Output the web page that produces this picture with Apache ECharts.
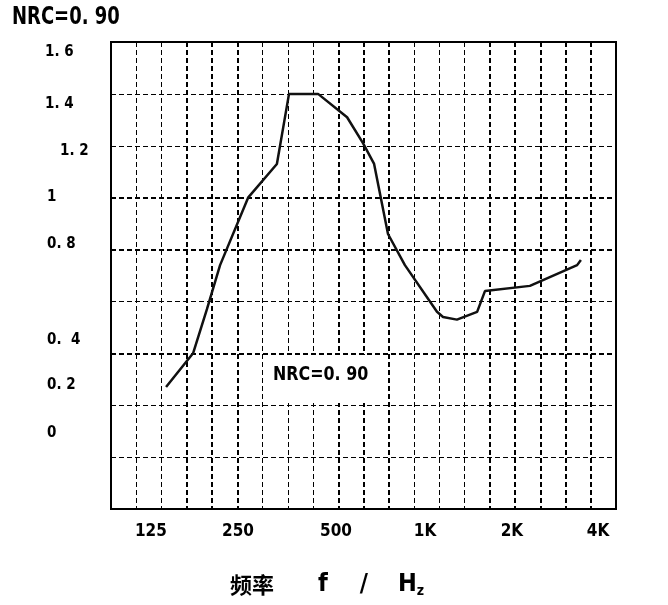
<!DOCTYPE html>
<html>
<head>
<meta charset="utf-8">
<script src="https://cdn.jsdelivr.net/npm/echarts@6/dist/echarts.min.js"></script>
<style>
html, body { margin: 0; padding: 0; background: #fff; }
#chart { width: 668px; height: 605px; }
</style>
</head>
<body>
<div id="chart"></div>
<script>
// 曲线：横坐标以网格列为单位（0 ~ 20），纵坐标为吸声系数
const curveX = [2.18, 3.25, 3.80, 4.32, 5.43, 6.57, 7.05, 8.20, 9.35, 9.98, 10.42, 10.97, 11.64, 12.91, 13.15, 13.70, 14.50, 14.81, 16.59, 18.46, 18.61];
const curveY = [0.27, 0.40, 0.57, 0.74, 1.00, 1.13, 1.40, 1.40, 1.31, 1.21, 1.13, 0.86, 0.74, 0.56, 0.54, 0.53, 0.56, 0.64, 0.66, 0.74, 0.76];

// 横轴刻度（频率）
const xTickPos = [1.58, 5.03, 8.91, 12.44, 15.88, 19.29];
const xTickLabels = ['125', '250', '500', '1K', '2K', '4K'];

// 纵轴刻度
const yTickValues = [1.6, 1.4, 1.2, 1.0, 0.8, 0.4, 0.2, 0];
const yTickLabels = ['1. 6', '1. 4', '1. 2', '1', '0. 8', '0.  4', '0. 2', '0'];

const titleText = 'NRC=0. 90';
const xName = ['频率', 'f', '/', 'H', 'z'];

const narrow = "'Liberation Sans Narrow', 'DejaVu Sans Condensed', sans-serif";

function findIndex(list, v) {
    for (let i = 0; i < list.length; i++) {
        if (Math.abs(list[i] - v) < 1e-6) return i;
    }
    return -1;
}

const myChart = echarts.init(document.getElementById('chart'), null, { renderer: 'canvas' });

const dashThin = { color: '#000', width: 1, type: [5, 3] };
const dashThick = { color: '#000', width: 2, type: [5, 3] };

const option = {
    backgroundColor: '#fff',
    animation: false,
    grid: {
        left: 111, top: 42, width: 505, height: 467,
        show: true, borderColor: '#000', borderWidth: 2,
        containLabel: false, outerBoundsMode: 'none'
    },
    xAxis: [
        {
            type: 'value', min: 0, max: 20, interval: 1,
            axisLine: { show: false },
            axisTick: { show: false, customValues: [1, 2, 6, 7, 8, 12, 13, 14] },
            splitLine: { show: true, lineStyle: dashThin },
            axisLabel: {
                customValues: xTickPos,
                margin: 14,
                color: '#000',
                fontFamily: narrow,
                fontWeight: 'bold',
                fontSize: 17,
                formatter: function (v) {
                    const i = findIndex(xTickPos, v);
                    return i >= 0 ? xTickLabels[i] : '';
                }
            }
        },
        {
            type: 'value', min: 0, max: 20, interval: 1, position: 'bottom',
            axisLine: { show: false },
            axisTick: { show: false, customValues: [3, 4, 5, 9, 10, 11, 15, 16, 17, 18, 19] },
            splitLine: { show: true, lineStyle: dashThick },
            axisLabel: { show: false }
        }
    ],
    yAxis: [
        {
            type: 'value', min: -0.2, max: 1.6, interval: 0.2,
            axisLine: { show: false },
            axisTick: { show: false, customValues: [1.4, 1.2, 0.6, 0.2, 0] },
            splitLine: { show: true, lineStyle: dashThin },
            axisLabel: {
                customValues: yTickValues,
                showMaxLabel: true,
                showMinLabel: true,
                align: 'left',
                margin: 66,
                color: '#000',
                fontFamily: narrow,
                fontWeight: 'bold',
                fontSize: 15,
                formatter: function (v) {
                    const i = findIndex(yTickValues, v);
                    return i >= 0 ? '{t' + i + '|' + yTickLabels[i] + '}' : '';
                },
                rich: {
                    t0: { padding: [20, 0, 0, 0] },
                    t1: { padding: [20, 0, 0, 0] },
                    t2: { padding: [10, 0, 0, 15] },
                    t3: { padding: [0, 0, 2, 2] },
                    t4: { padding: [0, 0, 10, 2] },
                    t5: { padding: [0, 0, 26, 2] },
                    t6: { padding: [0, 0, 40, 2] },
                    t7: { padding: [0, 0, 48, 2] }
                }
            }
        },
        {
            type: 'value', min: -0.2, max: 1.6, interval: 0.2, position: 'left',
            axisLine: { show: false },
            axisTick: { show: false, customValues: [1.0, 0.8, 0.4] },
            splitLine: { show: true, lineStyle: dashThick },
            axisLabel: { show: false }
        }
    ],
    graphic: [
        {
            type: 'text', left: 12, top: 5, z: 100, scaleX: 0.8,
            style: {
                text: titleText, fill: '#000',
                font: 'bold 25px ' + narrow
            }
        },
        {
            type: 'rect', z: 99,
            shape: { x: 266, y: 355, width: 110, height: 48 },
            style: { fill: '#fff' }
        },
        {
            type: 'text', left: 273, top: 366, z: 100, scaleX: 0.93,
            style: {
                text: titleText, fill: '#000',
                font: 'bold 19px ' + narrow
            }
        },
        {
            type: 'text', left: 230, top: 572, z: 100,
            style: {
                text: '{cn|' + xName[0] + '}{f|' + xName[1] + '}{sl|' + xName[2] + '}{h|' + xName[3] + '}{sub|' + xName[4] + '}',
                fill: '#000',
                rich: {
                    cn: { fontFamily: "'Noto Sans CJK SC', sans-serif", fontWeight: 'bold', fontSize: 22, fill: '#000' },
                    f: { fontFamily: narrow, fontWeight: 'bold', fontSize: 25, fill: '#000', padding: [0, 0, 0, 44] },
                    sl: { fontFamily: narrow, fontWeight: 'bold', fontSize: 25, fill: '#000', padding: [0, 0, 0, 32] },
                    h: { fontFamily: narrow, fontWeight: 'bold', fontSize: 25, fill: '#000', padding: [0, 0, 0, 30] },
                    sub: { fontFamily: narrow, fontWeight: 'bold', fontSize: 14, fill: '#000', padding: [14, 0, 0, 0] }
                }
            }
        }
    ],
    series: [
        {
            type: 'line',
            xAxisIndex: 0,
            yAxisIndex: 0,
            data: curveX.map(function (x, i) { return [x, curveY[i]]; }),
            showSymbol: false,
            smooth: false,
            lineStyle: { color: '#111', width: 2.5 },
            z: 5
        }
    ]
};

myChart.setOption(option);
</script>
</body>
</html>
